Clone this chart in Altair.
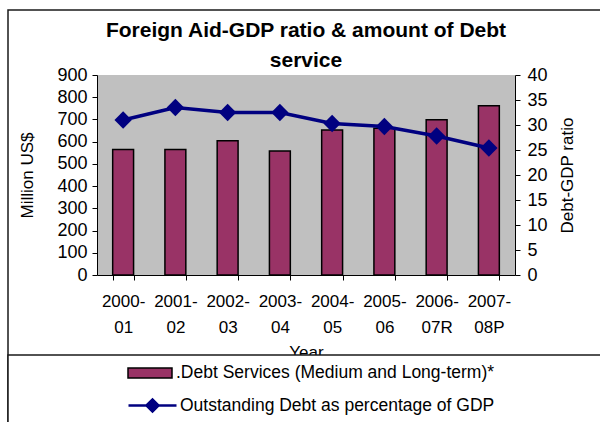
import altair as alt
import pandas as pd

years = ["2000-01", "2001-02", "2002-03", "2003-04", "2004-05", "2005-06", "2006-07R", "2007-08P"]
debt_service = [565, 565, 604, 558, 652, 660, 699, 762]
debt_ratio = [31.0, 33.5, 32.5, 32.5, 30.3, 29.7, 27.8, 25.4]
left_ticks = [0, 100, 200, 300, 400, 500, 600, 700, 800, 900]
right_ticks = [0, 5, 10, 15, 20, 25, 30, 35, 40]
bar_name = ".Debt Services (Medium and Long-term)*"
line_name = "Outstanding Debt as percentage of GDP"

df = pd.DataFrame({"year": years, "service": debt_service, "ratio": debt_ratio,
                   "bar_s": bar_name, "line_s": line_name})

FONT = "Liberation Sans"
W, H = 418, 200
PL, PT, PR, PB = 97, 75, 85, 147

x_enc = alt.X("year:N", sort=years, title="Year",
              scale=alt.Scale(paddingInner=0.6, paddingOuter=0.3),
              axis=alt.Axis(labelAngle=0, tickBand="extent", tickSize=5, labelPadding=13,
                            labelLineHeight=26, titlePadding=9, labelFontSize=17,
                            labelExpr="[slice(datum.label,0,5), slice(datum.label,5)]"))

one = alt.Data(values=[{"a": 1}])

outer = alt.Chart(one).mark_rect(fillOpacity=0, stroke="#1a1a1a", strokeWidth=1.5).encode(
    x=alt.value(-89), x2=alt.value(W + PR + 20), y=alt.value(-65), y2=alt.value(H + PB + 20))

legend_box = alt.Chart(one).mark_rect(fill="white", stroke="#1a1a1a", strokeWidth=1.5).encode(
    x=alt.value(-89), x2=alt.value(W + PR + 20), y=alt.value(280), y2=alt.value(H + PB + 20))

bars = alt.Chart(df).mark_bar(stroke="black", strokeWidth=1.5).encode(
    x=x_enc,
    y=alt.Y("service:Q", title="Million US$",
            scale=alt.Scale(domain=[0, 900], nice=False),
            axis=alt.Axis(values=left_ticks, grid=False, tickSize=5, labelPadding=5, titlePadding=20)),
    fill=alt.Fill("bar_s:N", scale=alt.Scale(domain=[bar_name], range=["#993366"]),
                  legend=alt.Legend(title=None, orient="none", legendX=30, legendY=275, padding=0,
                                    symbolType="M-1,-0.227H1V0.227H-1Z", symbolSize=1936,
                                    symbolStrokeColor="black", symbolStrokeWidth=1.5,
                                    labelOffset=3)),
)

y2 = alt.Y("ratio:Q", title="Debt-GDP ratio",
           scale=alt.Scale(domain=[0, 40], nice=False),
           axis=alt.Axis(orient="right", values=right_ticks, grid=False, tickSize=5,
                         labelPadding=7, titlePadding=29, titleAngle=270))

line = alt.Chart(df).mark_line(strokeWidth=3.5).encode(
    x=x_enc, y=y2,
    stroke=alt.Stroke("line_s:N", scale=alt.Scale(domain=[line_name], range=["#000080"]),
                      legend=alt.Legend(title=None, orient="none", legendX=30, legendY=305, padding=0,
                                        symbolType="M-1,0H1M-0.25,0L0,-0.25L0.25,0L0,0.25Z",
                                        symbolSize=2304, symbolStrokeWidth=2.5,
                                        symbolFillColor="#000080", labelOffset=2)),
)
points = alt.Chart(df).mark_point(shape="diamond", filled=True, size=300, color="#000080", opacity=1).encode(
    x=x_enc, y=y2)

chart = alt.layer(outer, legend_box, bars, alt.layer(line, points)).resolve_scale(
    y="independent"
).properties(
    width=W, height=H,
    padding={"left": PL, "top": PT, "right": PR, "bottom": PB},
    autosize=alt.AutoSizeParams(type="none"),
    background="white",
    title=alt.Title(text=["Foreign Aid-GDP ratio & amount of Debt", "service"],
                    fontSize=21, fontWeight="bold", font=FONT, lineHeight=30,
                    anchor="middle", frame="group", offset=0, dy=62, color="black"),
).configure_view(fill="#C0C0C0", strokeWidth=0).configure_axis(
    labelFont=FONT, titleFont=FONT, labelFontSize=18, titleFontSize=17,
    titleFontWeight="normal", labelColor="black", titleColor="black",
    domainColor="black", tickColor="black", domainWidth=1, tickWidth=1,
).configure_legend(
    labelFont=FONT, labelFontSize=17.5, labelColor="black", labelLimit=600,
)

chart.save("out.html", embed_options={"renderer": "svg", "actions": False})
